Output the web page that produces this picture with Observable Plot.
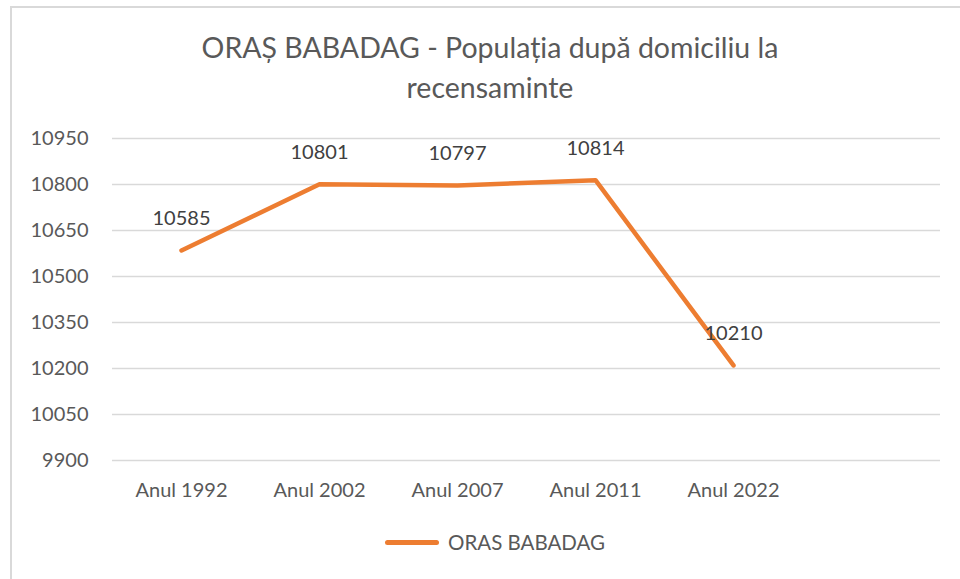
<!DOCTYPE html>
<html>
<head>
<meta charset="utf-8">
<script src="https://cdn.jsdelivr.net/npm/d3@7"></script>
<script src="https://cdn.jsdelivr.net/npm/@observablehq/plot@0.6"></script>
<style>
  html, body { margin: 0; padding: 0; background: #fff; }
  #wrap { position: relative; width: 960px; height: 579px; overflow: hidden; font-family: Lato, "Open Sans", sans-serif; }
  #frame { position: absolute; left: 10px; top: 6px; width: 960px; height: 600px; border-left: 2px solid #d9d9d9; border-top: 2px solid #d9d9d9; }
  #title { position: absolute; left: 0; width: 980px; top: 27px; text-align: center; font-size: 28.5px; line-height: 40px; color: #595959; }
  #chart { position: absolute; left: 0; top: 0; }
  #legend { position: absolute; top: 530px; left: 385px; display: flex; align-items: center; font-size: 20.5px; color: #595959; }
  #legend .sw { width: 54px; height: 5px; border-radius: 3px; background: #ED7D31; margin-right: 9px; }
</style>
</head>
<body>
<div id="wrap">
  <div id="frame"></div>
  <div id="chart"></div>
  <div id="title">ORAȘ BABADAG - Populația după domiciliu la<br>recensaminte</div>
  <div id="legend"><div class="sw"></div><span>ORAS BABADAG</span></div>
</div>
<script>
const categories = ["Anul 1992", "Anul 2002", "Anul 2007", "Anul 2011", "Anul 2022"];
const population = [10585, 10801, 10797, 10814, 10210];
const yTicks = [9900, 10050, 10200, 10350, 10500, 10650, 10800, 10950];
const seriesName = "ORAS BABADAG";

const data = categories.map((c, i) => ({cat: c, value: population[i]}));
const xDomain = [...categories, ""];

const chart = Plot.plot({
  width: 960,
  height: 579,
  marginLeft: 112,
  marginRight: 20,
  marginTop: 138,
  marginBottom: 119,
  style: {fontFamily: "Lato, 'Open Sans', sans-serif", fontSize: "20px", color: "#595959", background: "transparent"},
  x: {type: "point", domain: xDomain, padding: 0.5, label: null, tickSize: 0, tickPadding: 22, tickFormat: d => d},
  y: {domain: [9900, 10950], ticks: yTicks, label: null, tickSize: 0, tickPadding: 24, tickFormat: d => String(d)},
  marks: [
    Plot.ruleY(yTicks, {stroke: "#d9d9d9", strokeWidth: 1.5}),
    Plot.line(data, {x: "cat", y: "value", stroke: "#ED7D31", strokeWidth: 4.5, strokeLinejoin: "round", strokeLinecap: "round"}),
    Plot.text(data, {x: "cat", y: "value", text: d => String(d.value), dy: -32, fill: "#404040", fontSize: 20})
  ]
});
document.getElementById("chart").appendChild(chart);
</script>
</body>
</html>
